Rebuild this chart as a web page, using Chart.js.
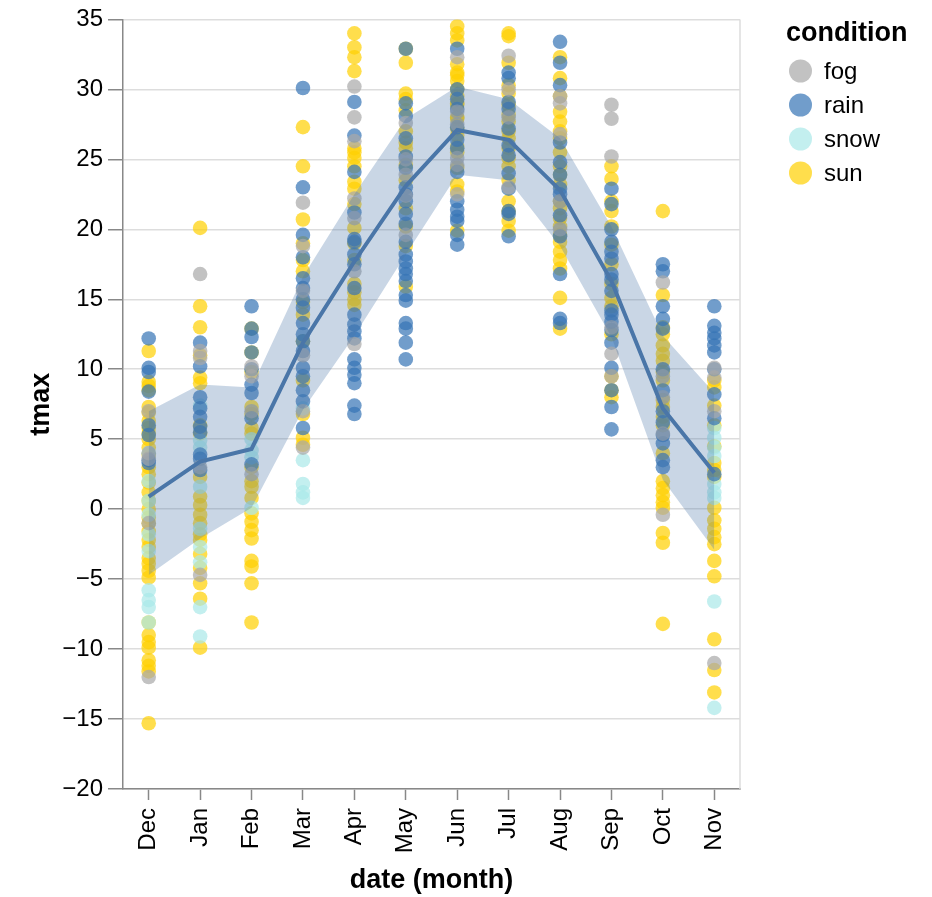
<!DOCTYPE html>
<html><head><meta charset="utf-8">
<script src="https://cdn.jsdelivr.net/npm/chart.js@4"></script>
<style>html,body{margin:0;padding:0;background:#fff;} canvas{display:block;}</style>
</head><body>
<canvas id="c" width="932" height="897"></canvas>
<script>
const months = ['Dec','Jan','Feb','Mar','Apr','May','Jun','Jul','Aug','Sep','Oct','Nov'];
const conditions = ['fog','rain','snow','sun'];

// mean of tmax per month
const meanTmax  = [0.9, 3.4, 4.3, 11.9, 17.7, 23.1, 27.1, 26.4, 22.8, 16.3, 7.2, 2.6];
// band (mean ± stdev)
const bandUpper = [7.0, 8.9, 8.7, 16.6, 22.5, 27.9, 30.2, 29.3, 26.5, 20.2, 12.4, 8.3];
const bandLower = [-4.7, -2.1, 0.1, 7.1, 12.4, 18.2, 23.9, 23.5, 18.8, 12.3, 2.1, -2.9];

// daily tmax readings per month (Dec..Nov) for each condition
const fogTmax = [
  [-12.0, 7.0, 4.0, 3.6, -1.0],
  [16.8, 11.3, 10.8, 3.0, -4.7],
  [10.2, 9.5, 7.0, 2.5],
  [21.9, 18.8, 15.6, 11.0, 7.0, 4.4],
  [30.2, 28.0, 26.3, 22.2, 20.8, 17.0, 11.8],
  [27.6, 25.0, 23.9, 22.4, 19.6],
  [32.3, 28.4, 27.5, 25.1, 24.6, 22.5],
  [32.4, 30.0, 28.0, 23.0],
  [29.5, 29.0, 26.8, 22.0, 20.0],
  [28.9, 27.9, 25.2, 13.0, 11.1, 9.5],
  [16.2, 9.5, 8.0, 5.4, -0.4],
  [10.1, 9.4, 7.0, -11.0]
];
const rainTmax = [
  [12.2, 10.1, 9.8, 8.4, 6.0, 5.3, 3.5, 3.3],
  [11.9, 10.2, 8.0, 7.2, 6.6, 5.9, 5.5, 3.9, 3.6, 2.8],
  [14.5, 12.9, 12.3, 11.2, 10.0, 8.9, 8.3, 6.5, 3.2],
  [30.1, 23.0, 19.6, 18.0, 16.5, 15.8, 15.0, 14.4, 13.3, 12.5, 12.0, 11.3, 10.1, 9.5, 8.5, 7.7, 5.8],
  [29.1, 26.7, 24.1, 21.2, 19.3, 19.1, 18.2, 17.5, 15.8, 13.9, 13.2, 12.7, 12.2, 10.7, 10.1, 9.6, 9.0, 7.4, 6.8],
  [32.9, 29.0, 28.1, 26.5, 25.2, 24.4, 23.0, 22.5, 22.0, 21.1, 20.4, 19.1, 18.2, 17.7, 17.2, 16.8, 16.3, 15.3, 14.9, 13.3, 12.9, 11.9, 10.7],
  [32.9, 30.0, 29.3, 28.6, 27.3, 26.4, 25.8, 24.1, 22.0, 21.4, 20.9, 20.6, 19.6, 18.9],
  [31.2, 30.8, 29.1, 28.6, 27.2, 26.0, 25.3, 24.0, 22.9, 21.3, 21.1, 19.5],
  [33.4, 31.9, 30.3, 26.2, 24.8, 23.9, 22.9, 22.5, 21.0, 19.5, 16.8, 13.6, 13.3],
  [22.9, 21.8, 20.0, 19.1, 18.4, 17.9, 16.8, 16.4, 15.6, 14.2, 13.9, 13.4, 12.8, 11.9, 10.1, 8.5, 7.3, 5.7],
  [17.5, 17.0, 14.5, 13.6, 12.9, 10.0, 8.5, 7.0, 6.2, 5.3, 4.7, 3.5, 3.0],
  [14.5, 13.1, 12.6, 12.2, 11.7, 11.2, 10.0, 8.2, 6.5, 2.5]
];
const snowTmax = [
  [4.0, 2.0, 0.6, -0.4, -1.8, -3.0, -5.8, -6.5, -7.0, -8.1],
  [7.4, 4.9, 4.4, 1.6, -1.4, -2.7, -3.8, -7.0, -9.1],
  [5.0, 4.2, 3.7, 0.1],
  [7.2, 3.5, 1.8, 1.2, 0.8],
  [], [], [], [], [], [], [],
  [5.8, 5.1, 4.4, 3.8, 1.8, 1.2, 0.8, -6.6, -14.2]
];
const sunTmax = [
  [11.3, 9.1, 8.8, 8.5, 7.3, 6.9, 6.3, 5.8, 5.4, 5.0, 4.4, 3.9, 3.0, 2.5, 1.9, 1.2, 0.6, 0.0, -0.6, -1.0, -1.6, -2.2, -2.7, -3.5, -3.9, -4.4, -4.9, -8.1, -9.0, -9.5, -9.9, -10.8, -11.2, -11.6, -15.3],
  [20.1, 14.5, 13.0, 11.0, 9.4, 9.0, 6.0, 5.4, 2.3, 0.9, 0.3, -0.4, -1.0, -1.8, -2.2, -3.2, -4.2, -5.3, -6.4, -9.9],
  [12.9, 11.2, 9.8, 7.3, 6.8, 5.8, 5.4, 3.0, 2.0, 1.6, 0.8, -0.3, -0.9, -1.5, -2.1, -3.7, -4.1, -5.3, -8.1],
  [27.3, 24.5, 20.7, 19.0, 17.8, 17.0, 14.8, 13.9, 12.0, 9.2, 6.8, 5.1, 4.6],
  [34.0, 33.0, 32.3, 31.3, 25.8, 25.5, 25.1, 24.5, 23.4, 22.9, 21.8, 20.1, 19.0, 17.8, 16.1, 15.5, 15.0, 14.6],
  [32.9, 31.9, 29.7, 29.3, 28.5, 27.0, 26.2, 25.8, 24.6, 23.5, 21.5, 20.2, 18.8, 15.9],
  [34.5, 34.0, 33.5, 31.8, 31.2, 31.0, 30.6, 30.0, 29.5, 29.0, 28.9, 28.0, 27.9, 27.2, 26.7, 25.9, 25.5, 24.4, 23.2, 22.7, 19.9],
  [34.0, 33.8, 31.9, 30.3, 29.7, 28.9, 28.2, 27.7, 27.0, 26.5, 25.8, 25.1, 24.5, 23.5, 22.0, 21.3, 20.6, 19.9],
  [32.3, 30.8, 29.5, 28.4, 27.7, 27.0, 26.5, 25.5, 24.5, 23.9, 23.2, 22.0, 21.5, 20.8, 20.2, 19.6, 19.1, 18.4, 17.8, 17.2, 15.1, 12.9],
  [24.5, 23.6, 22.0, 21.3, 20.2, 18.9, 17.5, 16.1, 15.1, 14.5, 12.5, 9.5, 8.5, 8.0],
  [21.3, 15.3, 13.0, 12.5, 11.7, 11.1, 10.6, 9.8, 9.2, 7.8, 7.3, 6.6, 6.0, 4.0, 2.0, 1.5, 1.0, 0.5, 0.1, -1.7, -2.4, -8.2],
  [9.2, 8.7, 7.4, 6.0, 4.5, 3.3, 2.8, 2.3, 0.1, -0.8, -1.4, -2.0, -2.5, -3.7, -4.8, -9.3, -11.5, -13.1]
];

const FONT = '"Liberation Sans", Arial, Helvetica, sans-serif';
const colorOf = {
  fog:  'rgba(168,168,168,0.7)',
  rain: 'rgba(53,116,181,0.7)',
  snow: 'rgba(170,232,232,0.7)',
  sun:  'rgba(255,208,0,0.7)'
};
const seriesOf = {fog: fogTmax, rain: rainTmax, snow: snowTmax, sun: sunTmax};

function toPoints(byMonth) {
  const out = [];
  months.forEach((m, i) => byMonth[i].forEach(v => out.push({x: m, y: v})));
  return out;
}

const datasets = [
  {label: 'mean', data: meanTmax, borderColor: '#4a76a8', borderWidth: 4,
   pointRadius: 0, fill: false, tension: 0, order: 1},
  {label: 'upper', data: bandUpper, borderWidth: 0, pointRadius: 0,
   backgroundColor: 'rgba(76,120,168,0.3)', fill: 2, tension: 0, order: 2},
  {label: 'lower', data: bandLower, borderWidth: 0, pointRadius: 0,
   backgroundColor: 'rgba(76,120,168,0.3)', fill: false, tension: 0, order: 2}
];
conditions.forEach(c => datasets.push({
  label: c, data: toPoints(seriesOf[c]), showLine: false,
  pointRadius: 7.3, pointBorderWidth: 0, pointBackgroundColor: colorOf[c],
  backgroundColor: colorOf[c], borderColor: colorOf[c], order: 3
}));

const frame = {
  id: 'frame',
  beforeDatasetsDraw(chart) {
    const {ctx, chartArea: a} = chart;
    ctx.save();
    ctx.strokeStyle = '#dddddd';
    ctx.lineWidth = 1.5;
    ctx.beginPath();
    ctx.moveTo(a.right, a.top);
    ctx.lineTo(a.right, a.bottom);
    ctx.stroke();
    ctx.restore();
  }
};

const legendBox = {
  id: 'legendBox',
  afterDraw(chart) {
    const c = chart.ctx;
    c.save();
    c.fillStyle = '#000';
    c.font = 'bold 27px ' + FONT;
    c.textBaseline = 'alphabetic';
    c.textAlign = 'left';
    c.fillText('condition', 786, 41);
    conditions.forEach((name, i) => {
      const y = 71 + i * 34;
      c.beginPath();
      c.arc(800.5, y, 11.5, 0, Math.PI * 2);
      c.fillStyle = colorOf[name];
      c.fill();
      c.fillStyle = '#000';
      c.font = '24px ' + FONT;
      c.textBaseline = 'middle';
      c.fillText(name, 824, y + 1);
    });
    c.restore();
  }
};

new Chart(document.getElementById('c'), {
  type: 'line',
  data: {labels: months, datasets},
  options: {
    responsive: false, animation: false, events: [], devicePixelRatio: 1,
    layout: {padding: {top: 18, right: 192, bottom: 0, left: 0}},
    plugins: {legend: {display: false}, tooltip: {enabled: false}},
    scales: {
      x: {
        type: 'category', offset: true,
        grid: {display: true, drawOnChartArea: false, drawTicks: true, tickLength: 11,
               offset: false, color: '#888', tickColor: '#888', tickWidth: 1.5},
        border: {display: true, color: '#888', width: 1.5},
        ticks: {font: {family: FONT, size: 24}, color: '#000', minRotation: 90, maxRotation: 90,
                padding: 8, autoSkip: false},
        title: {display: true, text: 'date (month)', color: '#000',
                font: {family: FONT, size: 27, weight: 'bold'}, padding: {top: 0, bottom: 0}},
        afterFit(s) { s.height = 108; }
      },
      y: {
        type: 'linear', min: -20, max: 35,
        ticks: {stepSize: 5, font: {family: FONT, size: 24}, color: '#000', padding: 5,
                callback: v => (v < 0 ? '\u2212' + Math.abs(v) : String(v))},
        grid: {color: '#dddddd', lineWidth: 1.5, tickColor: '#888', tickLength: 15, tickWidth: 1.5},
        border: {display: true, color: '#888', width: 1.5},
        title: {display: true, text: 'tmax', color: '#000',
                font: {family: FONT, size: 27, weight: 'bold'}, padding: {top: 25, bottom: 0}},
        afterFit(s) { s.width = 123; }
      }
    }
  },
  plugins: [frame, legendBox]
});
</script>
</body></html>
